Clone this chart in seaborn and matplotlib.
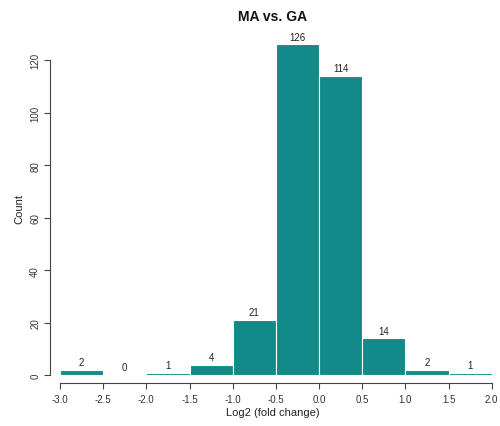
import matplotlib
matplotlib.use("Agg")
import matplotlib.pyplot as plt
import seaborn as sns
import numpy as np

sns.set_style("white")
plt.rcParams['font.family'] = ['Liberation Sans', 'DejaVu Sans']

bin_edges = [-3.0, -2.5, -2.0, -1.5, -1.0, -0.5, 0.0, 0.5, 1.0, 1.5, 2.0]
counts = [2, 0, 1, 4, 21, 126, 114, 14, 2, 1]
x_ticks = [-3.0, -2.5, -2.0, -1.5, -1.0, -0.5, 0.0, 0.5, 1.0, 1.5, 2.0]
y_ticks = [0, 20, 40, 60, 80, 100, 120]

centers = [(a + b) / 2 for a, b in zip(bin_edges[:-1], bin_edges[1:])]

fig = plt.figure(figsize=(5.0, 4.27), dpi=100)
ax = fig.add_axes([50/500, (427-384)/427, (496-50)/500, 349/427])

sns.histplot(x=centers, weights=counts, bins=bin_edges, ax=ax,
             color="#138a8a", edgecolor="white", linewidth=0.8, alpha=1.0)

for c, n in zip(centers, counts):
    ax.annotate(str(n), (c, n), xytext=(0, 2.0), textcoords="offset points",
                ha="center", va="bottom", fontsize=7, color="#222222")

ax.set_xlim(-3.116, 2.05)
ax.set_ylim(-3, 130)
ax.set_xticks(x_ticks)
ax.set_xticklabels([f"{t:.1f}" for t in x_ticks], fontsize=7)
ax.set_yticks(y_ticks)
ax.set_yticklabels([str(t) for t in y_ticks], fontsize=7, rotation=90, va="center")

for s in ["top", "right"]:
    ax.spines[s].set_visible(False)
ax.spines["left"].set_bounds(0, 120)
ax.spines["bottom"].set_bounds(-3, 2)
for s in ["left", "bottom"]:
    ax.spines[s].set_color("#444444")
    ax.spines[s].set_linewidth(0.8)
ax.tick_params(axis="both", which="both", direction="out", length=4, width=0.8,
               color="#444444", labelcolor="#333333", bottom=True, left=True, pad=3)
ax.tick_params(axis="x", pad=4)

ax.set_xlabel("Log2 (fold change)", fontsize=8, color="#222222", labelpad=2)
ax.set_ylabel("Count", fontsize=8, color="#222222", labelpad=4)
ax.set_title("MA vs. GA", fontsize=10, fontweight="bold", color="#111111", pad=10)
ax.grid(False)

fig.savefig("out.png", dpi=100)
